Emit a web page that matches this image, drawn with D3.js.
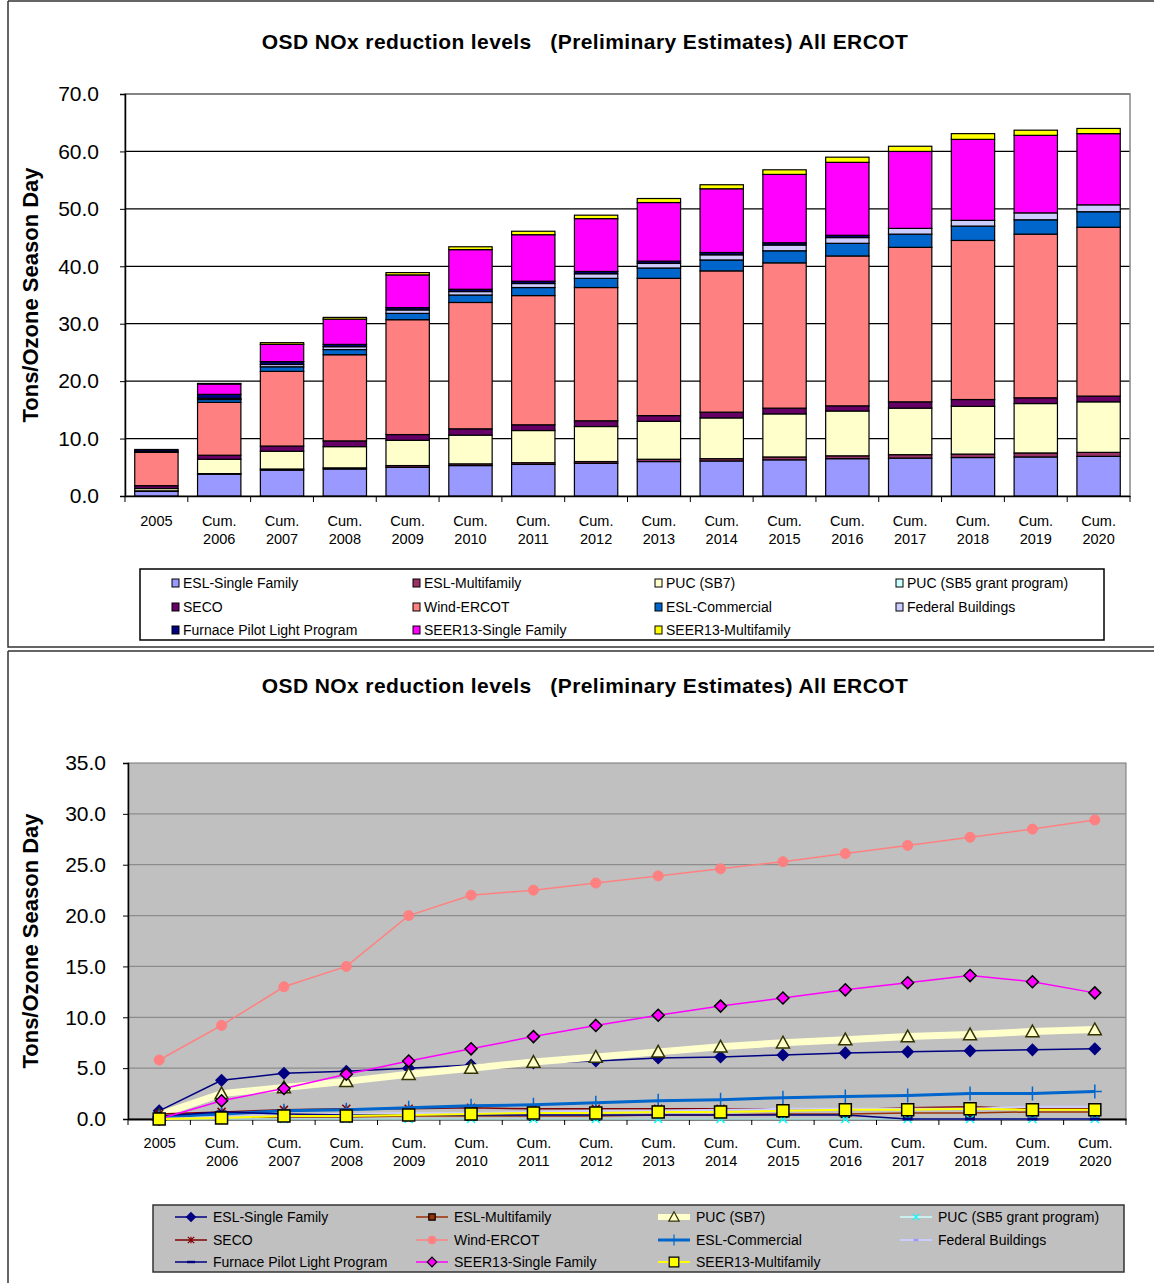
<!DOCTYPE html>
<html>
<head>
<meta charset="utf-8">
<script src="https://cdn.jsdelivr.net/npm/d3@7"></script>
<style>
  body { margin: 0; background: #fff; }
  svg { display: block; font-family: "Liberation Sans", Arial, sans-serif; }
</style>
</head>
<body>
<svg id="chart" width="1154" height="1283"></svg>
<script>
// categories
const years = ["2005", "Cum. 2006", "Cum. 2007", "Cum. 2008", "Cum. 2009", "Cum. 2010", "Cum. 2011", "Cum. 2012",
  "Cum. 2013", "Cum. 2014", "Cum. 2015", "Cum. 2016", "Cum. 2017", "Cum. 2018", "Cum. 2019", "Cum. 2020"];

const seriesNames = ["ESL-Single Family", "ESL-Multifamily", "PUC (SB7)", "PUC (SB5 grant program)", "SECO",
  "Wind-ERCOT", "ESL-Commercial", "Federal Buildings", "Furnace Pilot Light Program", "SEER13-Single Family", "SEER13-Multifamily"];

// series values (tons / ozone season day)
const eslSingleFamily  = [0.8, 3.8, 4.5, 4.7, 5.0, 5.3, 5.5, 5.7, 6.0, 6.1, 6.3, 6.5, 6.6, 6.7, 6.8, 6.9];
const eslMultifamily   = [0.1, 0.1, 0.2, 0.2, 0.3, 0.3, 0.3, 0.3, 0.4, 0.4, 0.5, 0.5, 0.6, 0.6, 0.7, 0.7];
const pucSB7           = [0.4, 2.5, 3.1, 3.7, 4.4, 5.0, 5.6, 6.1, 6.6, 7.1, 7.5, 7.8, 8.1, 8.3, 8.6, 8.8];
const pucSB5           = [0, 0, 0, 0, 0, 0, 0, 0, 0, 0, 0, 0, 0, 0, 0, 0];
const seco             = [0.5, 0.7, 0.9, 1.0, 1.0, 1.1, 1.0, 1.0, 1.0, 1.0, 1.0, 0.9, 1.1, 1.2, 1.0, 1.0];
const windErcot        = [5.8, 9.2, 13.0, 15.0, 20.0, 22.0, 22.5, 23.2, 23.9, 24.6, 25.3, 26.1, 26.9, 27.7, 28.5, 29.4];
const eslCommercial    = [0.2, 0.5, 0.8, 0.9, 1.1, 1.3, 1.4, 1.6, 1.8, 1.9, 2.1, 2.2, 2.3, 2.5, 2.5, 2.7];
const federalBuildings = [0, 0.2, 0.4, 0.5, 0.6, 0.6, 0.7, 0.8, 0.8, 0.9, 1.0, 1.0, 1.0, 1.0, 1.2, 1.2];
const furnacePilot     = [0.3, 0.7, 0.5, 0.4, 0.4, 0.4, 0.4, 0.4, 0.4, 0.4, 0.4, 0.4, 0, 0, 0, 0];
const seer13Single     = [0, 1.8, 3.0, 4.4, 5.7, 6.9, 8.1, 9.2, 10.2, 11.1, 11.9, 12.7, 13.4, 14.1, 13.5, 12.4];
const seer13Multi      = [0, 0.1, 0.3, 0.3, 0.4, 0.5, 0.6, 0.6, 0.7, 0.7, 0.8, 0.9, 0.9, 1.0, 0.9, 0.9];

const topTicks = [0, 10, 20, 30, 40, 50, 60, 70];
const bottomTicks = [0, 5, 10, 15, 20, 25, 30, 35];

const allValues = [eslSingleFamily, eslMultifamily, pucSB7, pucSB5, seco, windErcot, eslCommercial,
  federalBuildings, furnacePilot, seer13Single, seer13Multi];

// colours
const barColors = ["#9999FF", "#993366", "#FFFFCC", "#CCFFFF", "#660066", "#FF8080", "#0066CC", "#CCCCFF", "#000080", "#FF00FF", "#FFFF00"];
const lineColors = ["#000080", "#993300", "#FFFFCC", "#CCFFFF", "#800000", "#FF8080", "#0066CC", "#CCCCFF", "#000080", "#FF00FF", "#FFFF00"];

const svg = d3.select("#chart");
const titleText = "OSD NOx reduction levels\u00a0\u00a0\u00a0(Preliminary Estimates) All ERCOT";

// frames around both charts
svg.append("path").attr("d", "M8,1 H1154 M8,1 V647 H1154").attr("stroke", "#333").attr("fill", "none").attr("stroke-width", 1.5);
svg.append("path").attr("d", "M8,651 H1154 M8,651 V1283").attr("stroke", "#333").attr("fill", "none").attr("stroke-width", 1.5);

function splitLabel(sel) {
  sel.each(function (d) {
    const t = d3.select(this);
    const parts = d.split(" ");
    t.text(null);
    t.append("tspan").attr("x", 0).attr("dy", "0.71em").text(parts[0]);
    if (parts.length > 1) t.append("tspan").attr("x", 0).attr("dy", "1.2em").text(parts[1]);
  });
}

function addTitle(g, yPos) {
  g.append("text").attr("x", 585).attr("y", yPos).attr("text-anchor", "middle")
    .attr("font-size", 21).attr("letter-spacing", 0.4).attr("font-weight", "bold").text(titleText);
}

// ---------------- top: stacked bar chart ----------------
{
  const m = { left: 125, right: 1130, top: 94, bottom: 496 };
  const g = svg.append("g");

  const x = d3.scaleBand().domain(years).range([m.left, m.right]).paddingInner(0.31).paddingOuter(0.155);
  const y = d3.scaleLinear().domain([0, 70]).range([m.bottom, m.top]);

  addTitle(g, 49);

  // grid
  g.selectAll(".grid").data(topTicks.filter(d => d > 0)).join("line")
    .attr("x1", m.left).attr("x2", m.right).attr("y1", d => y(d)).attr("y2", d => y(d))
    .attr("stroke", "#000").attr("stroke-width", 1.2);
  g.append("rect").attr("x", m.left).attr("y", m.top).attr("width", m.right - m.left).attr("height", m.bottom - m.top)
    .attr("fill", "none").attr("stroke", "#888").attr("stroke-width", 1.5);

  const rows = years.map((yr, i) => {
    const r = { year: yr };
    seriesNames.forEach((s, k) => r[s] = allValues[k][i]);
    return r;
  });
  const stacked = d3.stack().keys(seriesNames)(rows);

  g.selectAll(".layer").data(stacked).join("g")
    .attr("fill", (d, k) => barColors[k])
    .selectAll("rect").data(d => d.filter(p => p[1] - p[0] > 0)).join("rect")
    .attr("x", d => x(d.data.year))
    .attr("width", x.bandwidth())
    .attr("y", d => y(d[1]))
    .attr("height", d => y(d[0]) - y(d[1]))
    .attr("stroke", "#000").attr("stroke-width", 1.2);

  // axes
  const yAxis = g.append("g").attr("transform", `translate(${m.left},0)`)
    .call(d3.axisLeft(y).tickValues(topTicks).tickFormat(d3.format(".1f")).tickSize(5));
  yAxis.select(".domain").attr("stroke", "#000").attr("stroke-width", 1.5);
  yAxis.selectAll("text").attr("font-size", 21).attr("font-family", "Liberation Sans, Arial").attr("fill", "#000").attr("dx", "-18");

  const xAxis = g.append("g").attr("transform", `translate(0,${m.bottom})`)
    .call(d3.axisBottom(x).tickSize(0));
  xAxis.select(".domain").attr("stroke", "#000").attr("stroke-width", 1.5);
  xAxis.selectAll("text").attr("font-size", 14.5).attr("font-family", "Liberation Sans, Arial").attr("fill", "#000")
    .attr("y", 20).call(splitLabel);
  // tick marks between categories
  g.selectAll(".xt").data(years.concat(["end"])).join("line")
    .attr("x1", (d, i) => m.left + i * (m.right - m.left) / years.length)
    .attr("x2", (d, i) => m.left + i * (m.right - m.left) / years.length)
    .attr("y1", m.bottom).attr("y2", m.bottom + 6).attr("stroke", "#000");

  g.append("text").attr("transform", `translate(38,${(m.top + m.bottom) / 2}) rotate(-90)`)
    .attr("text-anchor", "middle").attr("font-size", 22).attr("font-weight", "bold").text("Tons/Ozone Season Day");

  // legend
  const lg = g.append("g");
  lg.append("rect").attr("x", 140).attr("y", 569).attr("width", 964).attr("height", 71)
    .attr("fill", "#fff").attr("stroke", "#000").attr("stroke-width", 1.5);
  const colX = [172, 413, 655, 896], rowY = [583, 607, 630];
  const items = lg.selectAll(".li").data(seriesNames).join("g")
    .attr("transform", (d, i) => `translate(${colX[i % 4]},${rowY[Math.floor(i / 4)]})`);
  items.append("rect").attr("x", 0).attr("y", -4).attr("width", 7).attr("height", 8)
    .attr("fill", (d, i) => barColors[i]).attr("stroke", "#000").attr("stroke-width", 1);
  items.append("text").attr("x", 11).attr("y", 5).attr("font-size", 14).text(d => d);
}

// ---------------- bottom: line chart ----------------
{
  const m = { left: 128, right: 1126, top: 763, bottom: 1119 };
  const g = svg.append("g");

  const x = d3.scalePoint().domain(years).range([m.left, m.right]).padding(0.5);
  const y = d3.scaleLinear().domain([0, 35]).range([m.bottom, m.top]);

  addTitle(g, 693);

  g.append("rect").attr("x", m.left).attr("y", m.top).attr("width", m.right - m.left).attr("height", m.bottom - m.top)
    .attr("fill", "#C0C0C0").attr("stroke", "#777").attr("stroke-width", 1);
  g.selectAll(".grid").data(bottomTicks.filter(d => d > 0 && d < 35)).join("line")
    .attr("x1", m.left).attr("x2", m.right).attr("y1", d => y(d)).attr("y2", d => y(d))
    .attr("stroke", "#8c8c8c").attr("stroke-width", 1.2);

  const yAxis = g.append("g").attr("transform", `translate(${m.left},0)`)
    .call(d3.axisLeft(y).tickValues(bottomTicks).tickFormat(d3.format(".1f")).tickSize(5));
  yAxis.select(".domain").attr("stroke", "#000").attr("stroke-width", 1.5);
  yAxis.selectAll("text").attr("font-size", 21).attr("font-family", "Liberation Sans, Arial").attr("fill", "#000").attr("dx", "-14");

  const xAxis = g.append("g").attr("transform", `translate(0,${m.bottom})`)
    .call(d3.axisBottom(x).tickSize(0));
  xAxis.select(".domain").attr("stroke", "#000").attr("stroke-width", 2);
  xAxis.selectAll("text").attr("font-size", 14.5).attr("font-family", "Liberation Sans, Arial").attr("fill", "#000")
    .attr("y", 19).call(splitLabel);
  g.selectAll(".xt").data(years.concat(["end"])).join("line")
    .attr("x1", (d, i) => m.left + i * (m.right - m.left) / years.length)
    .attr("x2", (d, i) => m.left + i * (m.right - m.left) / years.length)
    .attr("y1", m.bottom).attr("y2", m.bottom + 6).attr("stroke", "#000");

  g.append("text").attr("transform", `translate(38,${(m.top + m.bottom) / 2}) rotate(-90)`)
    .attr("text-anchor", "middle").attr("font-size", 22).attr("font-weight", "bold").text("Tons/Ozone Season Day");

  // marker shapes, per series
  const markerDefs = [
    { shape: "diamond", size: 5.5, fill: "#000080", stroke: "#000080" },
    { shape: "square", size: 4, fill: "#993300", stroke: "#000" },
    { shape: "triangle", size: 6.5, fill: "#FFFFCC", stroke: "#333300" },
    { shape: "x", size: 4, fill: "none", stroke: "#00FFFF" },
    { shape: "star", size: 4, fill: "none", stroke: "#800000" },
    { shape: "circle", size: 5, fill: "#FF8080", stroke: "#FF8080" },
    { shape: "plus", size: 7, fill: "none", stroke: "#0066CC" },
    { shape: "dash", size: 3, fill: "none", stroke: "#9999FF" },
    { shape: "dash", size: 5, fill: "none", stroke: "#000080" },
    { shape: "diamond", size: 6, fill: "#FF00FF", stroke: "#000" },
    { shape: "square", size: 6, fill: "#FFFF00", stroke: "#000" }
  ];
  const lineWidths = [1.5, 1.5, 7, 1.5, 1.5, 1.5, 3, 2, 1.5, 1.5, 2];

  function markerPath(shape, s) {
    switch (shape) {
      case "diamond": return `M0,${-s}L${s},0L0,${s}L${-s},0Z`;
      case "square": return `M${-s},${-s}H${s}V${s}H${-s}Z`;
      case "triangle": return `M0,${-s}L${s},${s * 0.8}L${-s},${s * 0.8}Z`;
      case "x": return `M${-s},${-s}L${s},${s}M${-s},${s}L${s},${-s}`;
      case "star": return `M${-s},${-s}L${s},${s}M${-s},${s}L${s},${-s}M0,${-s}V${s}`;
      case "plus": return `M${-s},0H${s}M0,${-s}V${s}`;
      case "dash": return `M${-s},0H${s}`;
    }
  }
  function drawMarker(sel, k) {
    const md = markerDefs[k];
    if (md.shape === "circle") {
      sel.append("circle").attr("r", md.size).attr("fill", md.fill).attr("stroke", md.stroke);
    } else {
      sel.append("path").attr("d", markerPath(md.shape, md.size)).attr("fill", md.fill)
        .attr("stroke", md.stroke).attr("stroke-width", md.shape === "dash" ? 3 : 1.5);
    }
  }

  const line = d3.line().x((d, i) => x(years[i])).y(d => y(d));

  allValues.forEach((vals, k) => {
    const sg = g.append("g");
    sg.append("path").attr("d", line(vals)).attr("fill", "none")
      .attr("stroke", lineColors[k]).attr("stroke-width", lineWidths[k]);
    sg.selectAll("g").data(vals).join("g")
      .attr("transform", (d, i) => `translate(${x(years[i])},${y(d)})`)
      .each(function () { drawMarker(d3.select(this), k); });
  });

  // legend
  const lg = g.append("g");
  lg.append("rect").attr("x", 153).attr("y", 1205).attr("width", 971).attr("height", 67)
    .attr("fill", "#C0C0C0").attr("stroke", "#333").attr("stroke-width", 1.5);
  const colX = [175, 416, 658, 900], rowY = [1217, 1240, 1262];
  const items = lg.selectAll(".li").data(seriesNames).join("g")
    .attr("transform", (d, i) => `translate(${colX[i % 4]},${rowY[Math.floor(i / 4)]})`);
  items.append("line").attr("x1", 0).attr("x2", 32).attr("y1", 0).attr("y2", 0)
    .attr("stroke", (d, i) => lineColors[i]).attr("stroke-width", (d, i) => Math.min(lineWidths[i], 6));
  items.each(function (d, i) {
    const mg = d3.select(this).append("g").attr("transform", "translate(16,0) scale(0.8)");
    drawMarker(mg, i);
  });
  items.append("text").attr("x", 38).attr("y", 5).attr("font-size", 14).text(d => d);
}
</script>
</body>
</html>
